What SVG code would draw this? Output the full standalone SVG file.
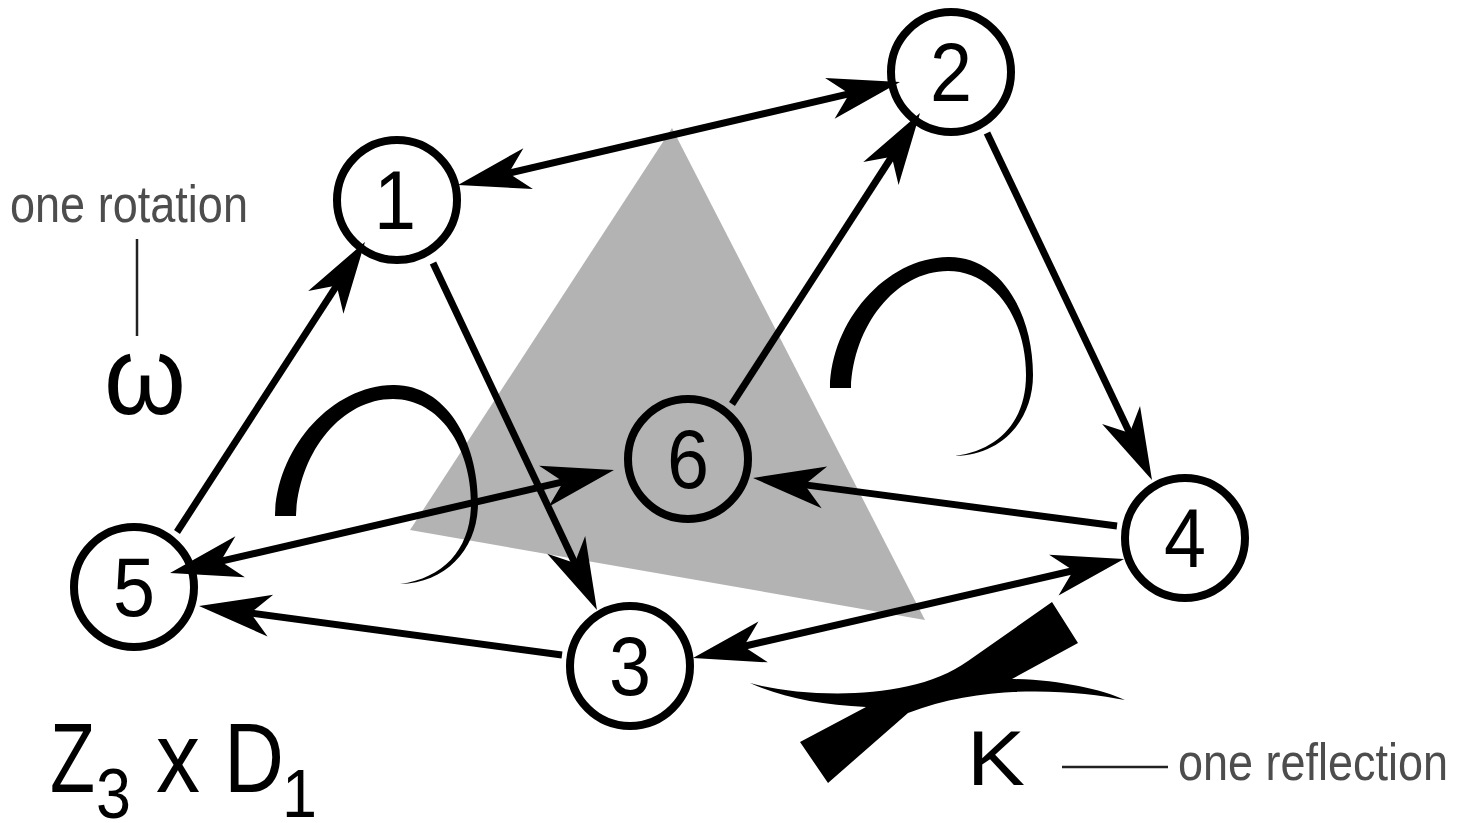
<svg xmlns="http://www.w3.org/2000/svg" width="1462" height="823" viewBox="0 0 1462 823">
<style>
.node circle{fill:none;stroke:#000;stroke-width:8}
.node text{font-family:"Liberation Sans",Arial,sans-serif;font-size:84px;fill:#000;text-anchor:middle}
.edge{fill:none;stroke:#000;stroke-width:7}
.lbl{font-family:"Liberation Sans",Arial,sans-serif;fill:#000}
.note{font-family:"Liberation Sans",Arial,sans-serif;fill:#4d4d4d;font-size:52px}
.tick{stroke:#222;stroke-width:2.5}
</style>
<defs>
<marker id="ah" markerUnits="userSpaceOnUse" viewBox="-25 -25 80 50" markerWidth="80" markerHeight="50" refX="5" refY="0" orient="auto-start-reverse" overflow="visible">
<path d="M52,0 L-20,-21 L0,0 L-20,21 Z" fill="#000"/>
</marker>
<path id="rot" d="M275,516 C276,450 330,386 393,385 C445,384 478,440 478,503 C478,548 447,583 400,584 C445,578 471,548 471,503 C471,448 440,399 393,399 C340,399 298,455 296,516 Z" fill="#000"/>
</defs>
<rect width="1462" height="823" fill="#fff"/>
<polygon id="triangle" points="672,128 410,530 925,620" fill="#b3b3b3"/>
<g id="rotations">
<use href="#rot"/>
<use href="#rot" transform="translate(555,-128)"/>
</g>
<g id="reflection-symbol">
<path d="M750,683 C800,697 910,703 968,661 L1052,602 L1078,643 L1012,679 C1060,680 1100,689 1125,700 C1075,690 985,683 908,713 L828,783 L800,742 L866,707 C820,705 780,697 750,683 Z" fill="#000"/>
</g>
<g id="connectors">
<path class="edge" d="M503.8,174.3 L854.2,92.7" marker-start="url(#ah)" marker-end="url(#ah)"/>
<path class="edge" d="M177,532 L339.4,281.4" marker-end="url(#ah)"/>
<path class="edge" d="M987,133 L1131.8,437.5" marker-end="url(#ah)"/>
<path class="edge" d="M732,404 L894.5,152.5" marker-end="url(#ah)"/>
<path class="edge" d="M433,263 L576.9,567.5" marker-end="url(#ah)"/>
<path class="edge" d="M215.8,562.4 L568.2,480.6" marker-start="url(#ah)" marker-end="url(#ah)"/>
<path class="edge" d="M1117,526 L799.6,484.1" marker-end="url(#ah)"/>
<path class="edge" d="M738.8,647.5 L1078.2,569.5" marker-start="url(#ah)" marker-end="url(#ah)"/>
<path class="edge" d="M562,655 L245.6,612.3" marker-end="url(#ah)"/>
</g>
<g id="node1" class="node"><circle cx="397" cy="200" r="60"/><text x="395" y="229" textLength="42" lengthAdjust="spacingAndGlyphs">1</text></g>
<g id="node2" class="node"><circle cx="951" cy="72" r="60"/><text x="951" y="101" textLength="42" lengthAdjust="spacingAndGlyphs">2</text></g>
<g id="node3" class="node"><circle cx="630" cy="666" r="60"/><text x="630" y="695" textLength="42" lengthAdjust="spacingAndGlyphs">3</text></g>
<g id="node4" class="node"><circle cx="1185" cy="538" r="60"/><text x="1185" y="567" textLength="42" lengthAdjust="spacingAndGlyphs">4</text></g>
<g id="node5" class="node"><circle cx="134" cy="587" r="60"/><text x="134" y="616" textLength="42" lengthAdjust="spacingAndGlyphs">5</text></g>
<g id="node6" class="node"><circle cx="688" cy="459" r="60"/><text x="688" y="488" textLength="42" lengthAdjust="spacingAndGlyphs">6</text></g>
<g id="rotation-label">
<text class="note" x="10" y="222" textLength="238" lengthAdjust="spacingAndGlyphs">one rotation</text>
<line class="tick" x1="137" y1="239" x2="137" y2="336"/>
<text class="lbl" x="104" y="414" font-size="112" textLength="82" lengthAdjust="spacingAndGlyphs">ω</text>
</g>
<g id="reflection-label">
<text class="lbl" x="967" y="785" font-size="78" textLength="58" lengthAdjust="spacingAndGlyphs">K</text>
<line class="tick" x1="1062" y1="767" x2="1168" y2="767"/>
<text class="note" x="1178" y="780" textLength="270" lengthAdjust="spacingAndGlyphs">one reflection</text>
</g>
<g id="group-label">
<text class="lbl" x="50" y="792" font-size="98" textLength="45" lengthAdjust="spacingAndGlyphs">Z</text>
<text class="lbl" x="96" y="818" font-size="70" textLength="35" lengthAdjust="spacingAndGlyphs">3</text>
<text class="lbl" x="156" y="792" font-size="100" textLength="44" lengthAdjust="spacingAndGlyphs">x</text>
<text class="lbl" x="224" y="792" font-size="98" textLength="60" lengthAdjust="spacingAndGlyphs">D</text>
<text class="lbl" x="282" y="817" font-size="68" textLength="35" lengthAdjust="spacingAndGlyphs">1</text>
</g>
</svg>
